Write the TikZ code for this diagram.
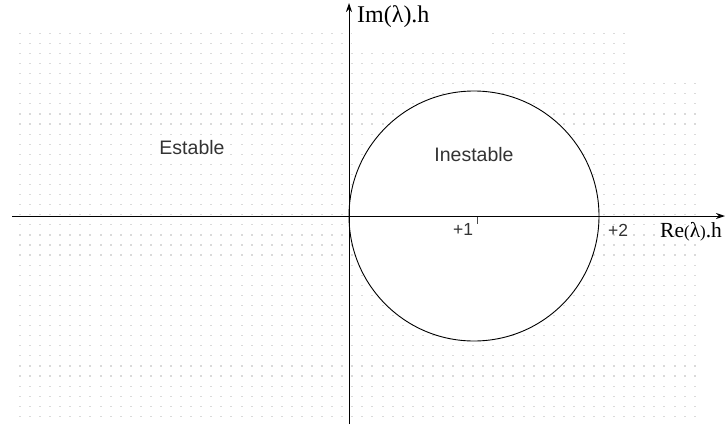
\documentclass[tikz,border=0pt]{standalone}
\usepackage{fontspec}
\setmainfont{Liberation Serif}
\setsansfont{Liberation Sans}
\usetikzlibrary{arrows.meta}
\definecolor{txt}{HTML}{333333}
\definecolor{dotc}{HTML}{DADADA}
\tikzset{
  axis/.style={line width=1pt, -{Stealth[length=9pt,width=6pt]}},
  region/.style={font=\sffamily\fontsize{19.5}{19.5}\selectfont, text=txt, fill=white, inner sep=1pt},
  num/.style={font=\sffamily\fontsize{17.5}{17.5}\selectfont, text=txt, inner sep=0pt},
  axlabel/.style={font=\fontsize{24}{24}\selectfont, text=black, inner sep=0pt, anchor=west},
  griddot/.style={fill=dotc}
}
\begin{document}
\begin{tikzpicture}[x=1pt,y=-1pt]
\useasboundingbox (0,0) rectangle (725,424);
% dotted background grid
\foreach \k in {0,...,38}{
  \pgfmathsetmacro{\yy}{33.3+10.08*\k}
  \ifnum\k<5 \def\jmax{60}\else\def\jmax{67}\fi
  \foreach \j in {0,...,\jmax}{
    \fill[griddot] ({20+10.07*\j-1},{\yy-0.6}) rectangle ++(2,1.2);
  }
}
% white patch behind the vertical axis label
\fill[white] (352,0) rectangle (490,48);
% circle
\node[circle, draw=black, line width=0.9pt, fill=white, minimum size=250pt, inner sep=0pt] (c) at (474,216) {};
% axes
\coordinate (xs) at (12,216);
\coordinate (xe) at (725,216);
\coordinate (ys) at (349,424);
\coordinate (ye) at (349,3);
\draw[axis] (xs) -- (xe);
\draw[axis] (ys) -- (ye);
% tick at +1
\coordinate (t1a) at (477,217);
\coordinate (t1b) at (477,224);
\draw[line width=0.6pt, black!70] (t1a) -- (t1b);
% labels
\node[region] (est) at (192,148) {Estable};
\node[region, fill=none] (inest) at (474,155) {Inestable};
\node[num] (p1) at (463,229) {+1};
\node[num] (p2) at (618,230) {+2};
\node[axlabel] (im) at (357,17) {Im(λ).h};
\node[axlabel, font=\fontsize{21.5}{21.5}\selectfont] (re) at (660,232) {Re{\fontsize{17}{17}\selectfont(}λ{\fontsize{17}{17}\selectfont)}.h};
\end{tikzpicture}
\end{document}
